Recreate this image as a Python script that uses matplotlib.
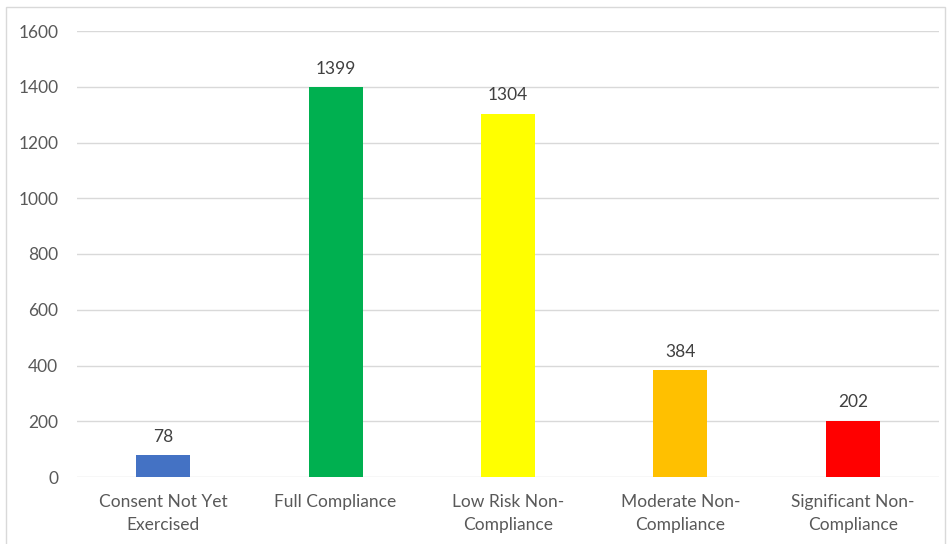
import matplotlib.pyplot as plt
from matplotlib.patches import Rectangle

categories = ['Consent Not Yet\nExercised', 'Full Compliance', 'Low Risk Non-\nCompliance',
              'Moderate Non-\nCompliance', 'Significant Non-\nCompliance']
values = [78, 1399, 1304, 384, 202]
colors = ['#4472C4', '#00B050', '#FFFF00', '#FFC000', '#FF0000']
yticks = [0, 200, 400, 600, 800, 1000, 1200, 1400, 1600]

plt.rcParams['font.family'] = ['Lato', 'DejaVu Sans']
fs = 12.5

fig = plt.figure(figsize=(9.5, 5.44), dpi=100)
ax = fig.add_axes([77/950, 1-477/544, (939-77)/950, (477-31)/544])

x = range(len(values))
bars = ax.bar(x, values, width=0.313, color=colors, zorder=3)
for b, v in zip(bars, values):
    ax.annotate(str(v), (b.get_x() + b.get_width()/2, v), xytext=(0, 7.5),
                textcoords='offset points', ha='center', va='bottom',
                fontsize=fs, color='#404040')

ax.set_xlim(-0.5, len(values) - 0.5)
ax.set_ylim(0, 1600)
ax.set_yticks(yticks)
ax.set_xticks(list(x))
ax.set_xticklabels(categories, fontsize=fs, color='#595959', linespacing=1.6)
ax.tick_params(axis='y', labelsize=fs, labelcolor='#595959', length=0, pad=13.5)
ax.tick_params(axis='x', length=0, pad=12)
ax.grid(axis='y', color='#D9D9D9', linewidth=1, zorder=0)
for s in ax.spines.values():
    s.set_visible(False)

# outer chart border
fig.patches.append(Rectangle((6/950, -0.02), (945-6)/950, 1-7/544+0.02,
                             transform=fig.transFigure, fill=False,
                             edgecolor='#D9D9D9', linewidth=1))

fig.savefig('out.png', dpi=100)
